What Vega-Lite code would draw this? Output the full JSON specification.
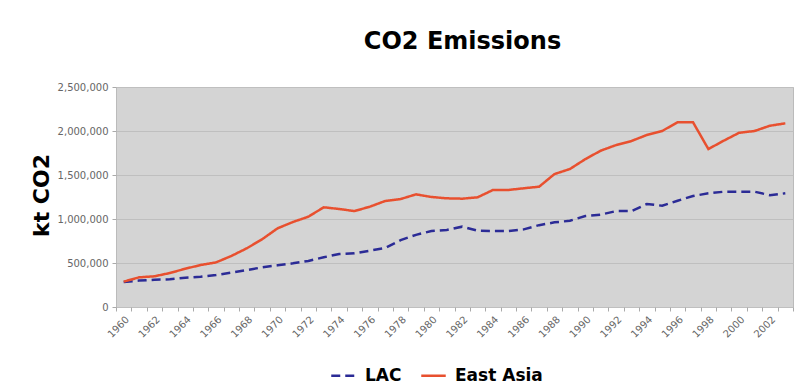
{
  "$schema": "https://vega.github.io/schema/vega-lite/v6.json",
  "width": 677,
  "height": 220,
  "autosize": "none",
  "padding": {"left": 116, "top": 87, "right": 16, "bottom": 78},
  "background": "white",
  "title": {"text": "CO2 Emissions", "font": "DejaVu Sans", "fontSize": 24, "fontWeight": "bold", "color": "black", "anchor": "middle", "dx": 8, "offset": 28},
  "data": {"values": [
    {"year":1960,"region":"LAC","kt":285000},{"year":1961,"region":"LAC","kt":300000},{"year":1962,"region":"LAC","kt":310000},{"year":1963,"region":"LAC","kt":315000},{"year":1964,"region":"LAC","kt":333000},{"year":1965,"region":"LAC","kt":345000},{"year":1966,"region":"LAC","kt":364000},{"year":1967,"region":"LAC","kt":390000},{"year":1968,"region":"LAC","kt":420000},{"year":1969,"region":"LAC","kt":450000},{"year":1970,"region":"LAC","kt":474000},{"year":1971,"region":"LAC","kt":496000},{"year":1972,"region":"LAC","kt":523000},{"year":1973,"region":"LAC","kt":565000},{"year":1974,"region":"LAC","kt":602000},{"year":1975,"region":"LAC","kt":610000},{"year":1976,"region":"LAC","kt":640000},{"year":1977,"region":"LAC","kt":670000},{"year":1978,"region":"LAC","kt":760000},{"year":1979,"region":"LAC","kt":820000},{"year":1980,"region":"LAC","kt":864000},{"year":1981,"region":"LAC","kt":875000},{"year":1982,"region":"LAC","kt":913000},{"year":1983,"region":"LAC","kt":868000},{"year":1984,"region":"LAC","kt":864000},{"year":1985,"region":"LAC","kt":864000},{"year":1986,"region":"LAC","kt":882000},{"year":1987,"region":"LAC","kt":930000},{"year":1988,"region":"LAC","kt":962000},{"year":1989,"region":"LAC","kt":980000},{"year":1990,"region":"LAC","kt":1034000},{"year":1991,"region":"LAC","kt":1050000},{"year":1992,"region":"LAC","kt":1090000},{"year":1993,"region":"LAC","kt":1090000},{"year":1994,"region":"LAC","kt":1170000},{"year":1995,"region":"LAC","kt":1151000},{"year":1996,"region":"LAC","kt":1208000},{"year":1997,"region":"LAC","kt":1261000},{"year":1998,"region":"LAC","kt":1292000},{"year":1999,"region":"LAC","kt":1310000},{"year":2000,"region":"LAC","kt":1310000},{"year":2001,"region":"LAC","kt":1310000},{"year":2002,"region":"LAC","kt":1270000},{"year":2003,"region":"LAC","kt":1292000},
    {"year":1960,"region":"East Asia","kt":288000},{"year":1961,"region":"East Asia","kt":337000},{"year":1962,"region":"East Asia","kt":349000},{"year":1963,"region":"East Asia","kt":386000},{"year":1964,"region":"East Asia","kt":435000},{"year":1965,"region":"East Asia","kt":477000},{"year":1966,"region":"East Asia","kt":507000},{"year":1967,"region":"East Asia","kt":580000},{"year":1968,"region":"East Asia","kt":667000},{"year":1969,"region":"East Asia","kt":770000},{"year":1970,"region":"East Asia","kt":894000},{"year":1971,"region":"East Asia","kt":966000},{"year":1972,"region":"East Asia","kt":1026000},{"year":1973,"region":"East Asia","kt":1133000},{"year":1974,"region":"East Asia","kt":1114000},{"year":1975,"region":"East Asia","kt":1090000},{"year":1976,"region":"East Asia","kt":1140000},{"year":1977,"region":"East Asia","kt":1205000},{"year":1978,"region":"East Asia","kt":1227000},{"year":1979,"region":"East Asia","kt":1280000},{"year":1980,"region":"East Asia","kt":1250000},{"year":1981,"region":"East Asia","kt":1235000},{"year":1982,"region":"East Asia","kt":1231000},{"year":1983,"region":"East Asia","kt":1246000},{"year":1984,"region":"East Asia","kt":1330000},{"year":1985,"region":"East Asia","kt":1330000},{"year":1986,"region":"East Asia","kt":1349000},{"year":1987,"region":"East Asia","kt":1367000},{"year":1988,"region":"East Asia","kt":1511000},{"year":1989,"region":"East Asia","kt":1568000},{"year":1990,"region":"East Asia","kt":1680000},{"year":1991,"region":"East Asia","kt":1776000},{"year":1992,"region":"East Asia","kt":1840000},{"year":1993,"region":"East Asia","kt":1886000},{"year":1994,"region":"East Asia","kt":1955000},{"year":1995,"region":"East Asia","kt":2000000},{"year":1996,"region":"East Asia","kt":2100000},{"year":1997,"region":"East Asia","kt":2100000},{"year":1998,"region":"East Asia","kt":1795000},{"year":1999,"region":"East Asia","kt":1890000},{"year":2000,"region":"East Asia","kt":1980000},{"year":2001,"region":"East Asia","kt":2000000},{"year":2002,"region":"East Asia","kt":2060000},{"year":2003,"region":"East Asia","kt":2087000}
  ]},
  "mark": {"type": "line", "strokeWidth": 2.5},
  "encoding": {
    "x": {
      "field": "year", "type": "ordinal",
      "scale": {"type": "band", "paddingInner": 0, "paddingOuter": 0},
      "axis": {
        "title": null, "labelAngle": -45, "labelOverlap": false,
        "labelExpr": "(datum.value - 1960) % 2 == 0 ? datum.label : ''",
        "tickBand": "extent", "grid": false, "domain": false,
        "labelFont": "DejaVu Sans", "labelFontSize": 10, "labelColor": "#666666",
        "tickColor": "#aaaaaa", "tickSize": 4, "labelPadding": 3
      }
    },
    "y": {
      "field": "kt", "type": "quantitative",
      "scale": {"domain": [0, 2500000]},
      "axis": {
        "title": "kt CO2", "titleFont": "DejaVu Sans", "titleFontSize": 22, "titleFontWeight": "bold", "titleColor": "black",
        "titleX": -68, "titleY": 108, "titleBaseline": "alphabetic",
        "values": [0, 500000, 1000000, 1500000, 2000000, 2500000],
        "format": ",d", "domain": false,
        "gridColor": "#bfbfbf", "gridWidth": 1,
        "labelFont": "DejaVu Sans", "labelFontSize": 10, "labelColor": "#666666",
        "tickColor": "#aaaaaa", "tickSize": 4, "labelPadding": 4
      }
    },
    "color": {
      "field": "region", "type": "nominal",
      "scale": {"domain": ["LAC", "East Asia"], "range": ["#2b2b96", "#e8502f"]},
      "legend": {"title": null}
    },
    "strokeDash": {
      "field": "region", "type": "nominal",
      "scale": {"domain": ["LAC", "East Asia"], "range": [[9, 5], [1, 0]]},
      "legend": {"title": null}
    }
  },
  "config": {
    "view": {"fill": "#d4d4d4", "stroke": "#bbbbbb"},
    "legend": {
      "orient": "none", "legendX": 214, "legendY": 275, "direction": "horizontal",
      "symbolType": "stroke", "symbolSize": 600, "symbolStrokeWidth": 2.5,
      "labelFont": "DejaVu Sans", "labelFontSize": 17, "labelFontWeight": "bold", "labelColor": "black",
      "labelOffset": 8, "columnPadding": 14
    }
  }
}
